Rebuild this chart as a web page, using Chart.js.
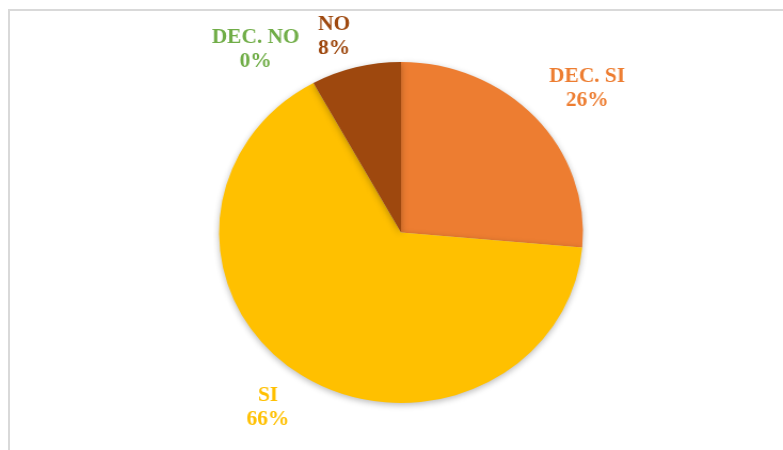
<!DOCTYPE html>
<html>
<head>
<meta charset="utf-8">
<script src="https://cdn.jsdelivr.net/npm/chart.js@4/dist/chart.umd.min.js"></script>
<style>
  html, body { margin: 0; padding: 0; background: #fff; }
  #wrap { position: relative; width: 783px; height: 450px; overflow: hidden; }
  #frame { position: absolute; left: 8px; top: 9px; right: -2px; bottom: -2px;
           border-top: 2px solid #d9d9d9; border-left: 2px solid #d9d9d9; }
  #holder { position: absolute; left: 0; top: 0; width: 783px; height: 450px;
            transform: scaleX(1.067); transform-origin: 401px 50%; }
</style>
</head>
<body>
<div id="wrap">
  <div id="frame"></div>
  <div id="holder"><canvas id="myChart"></canvas></div>
</div>
<script>
const categories = ['DEC. SI', 'SI', 'DEC. NO', 'NO'];
// slice shares (labels show them rounded)
const shareValues = [26.4, 65.6, 0, 8.0];
const sliceColors = ['#ED7D31', '#FFC000', '#70AD47', '#9E480E'];
const labelColors = ['#ED7D31', '#FFC000', '#70AD47', '#9E480E'];
// nudges for the text boxes, from the arc anchor
const labelNudge = [[21, -3], [-11, 1], [-36, 0], [-11, 6]];

const shadowPlugin = {
    id: 'pieShadow',
    beforeDatasetDraw(chart) {
        const c = chart.ctx;
        c.save();
        c.shadowColor = 'rgba(0,0,0,0.28)';
        c.shadowBlur = 6;
        c.shadowOffsetY = 2;
    },
    afterDatasetDraw(chart) {
        chart.ctx.restore();
    }
};

const outsideLabels = {
    id: 'outsideLabels',
    afterDraw(chart) {
        const c = chart.ctx;
        const meta = chart.getDatasetMeta(0);
        c.save();
        c.font = 'bold 20px "Liberation Serif", "Times New Roman", serif';
        c.textAlign = 'center';
        c.textBaseline = 'middle';
        meta.data.forEach((arc, i) => {
            const p = arc.getProps(['x', 'y', 'startAngle', 'endAngle', 'outerRadius'], true);
            const mid = (p.startAngle + p.endAngle) / 2;
            const r = p.outerRadius * 1.22;
            const x = p.x + Math.cos(mid) * r + labelNudge[i][0];
            const y = p.y + Math.sin(mid) * r + labelNudge[i][1];
            c.fillStyle = labelColors[i];
            c.fillText(categories[i], x, y - 12);
            c.fillText(Math.round(shareValues[i]) + '%', x, y + 12);
        });
        c.restore();
    }
};

const ctx = document.getElementById('myChart').getContext('2d');
const chart = new Chart(ctx, {
    type: 'pie',
    data: {
        labels: categories,
        datasets: [{
            data: shareValues,
            backgroundColor: sliceColors,
            borderWidth: 0
        }]
    },
    options: {
        responsive: true,
        maintainAspectRatio: false,
        animation: false,
        layout: { padding: { left: 19, right: 0, top: 62, bottom: 47 } },
        plugins: {
            legend: { display: false },
            tooltip: { enabled: false }
        }
    },
    plugins: [shadowPlugin, outsideLabels]
});
</script>
</body>
</html>
